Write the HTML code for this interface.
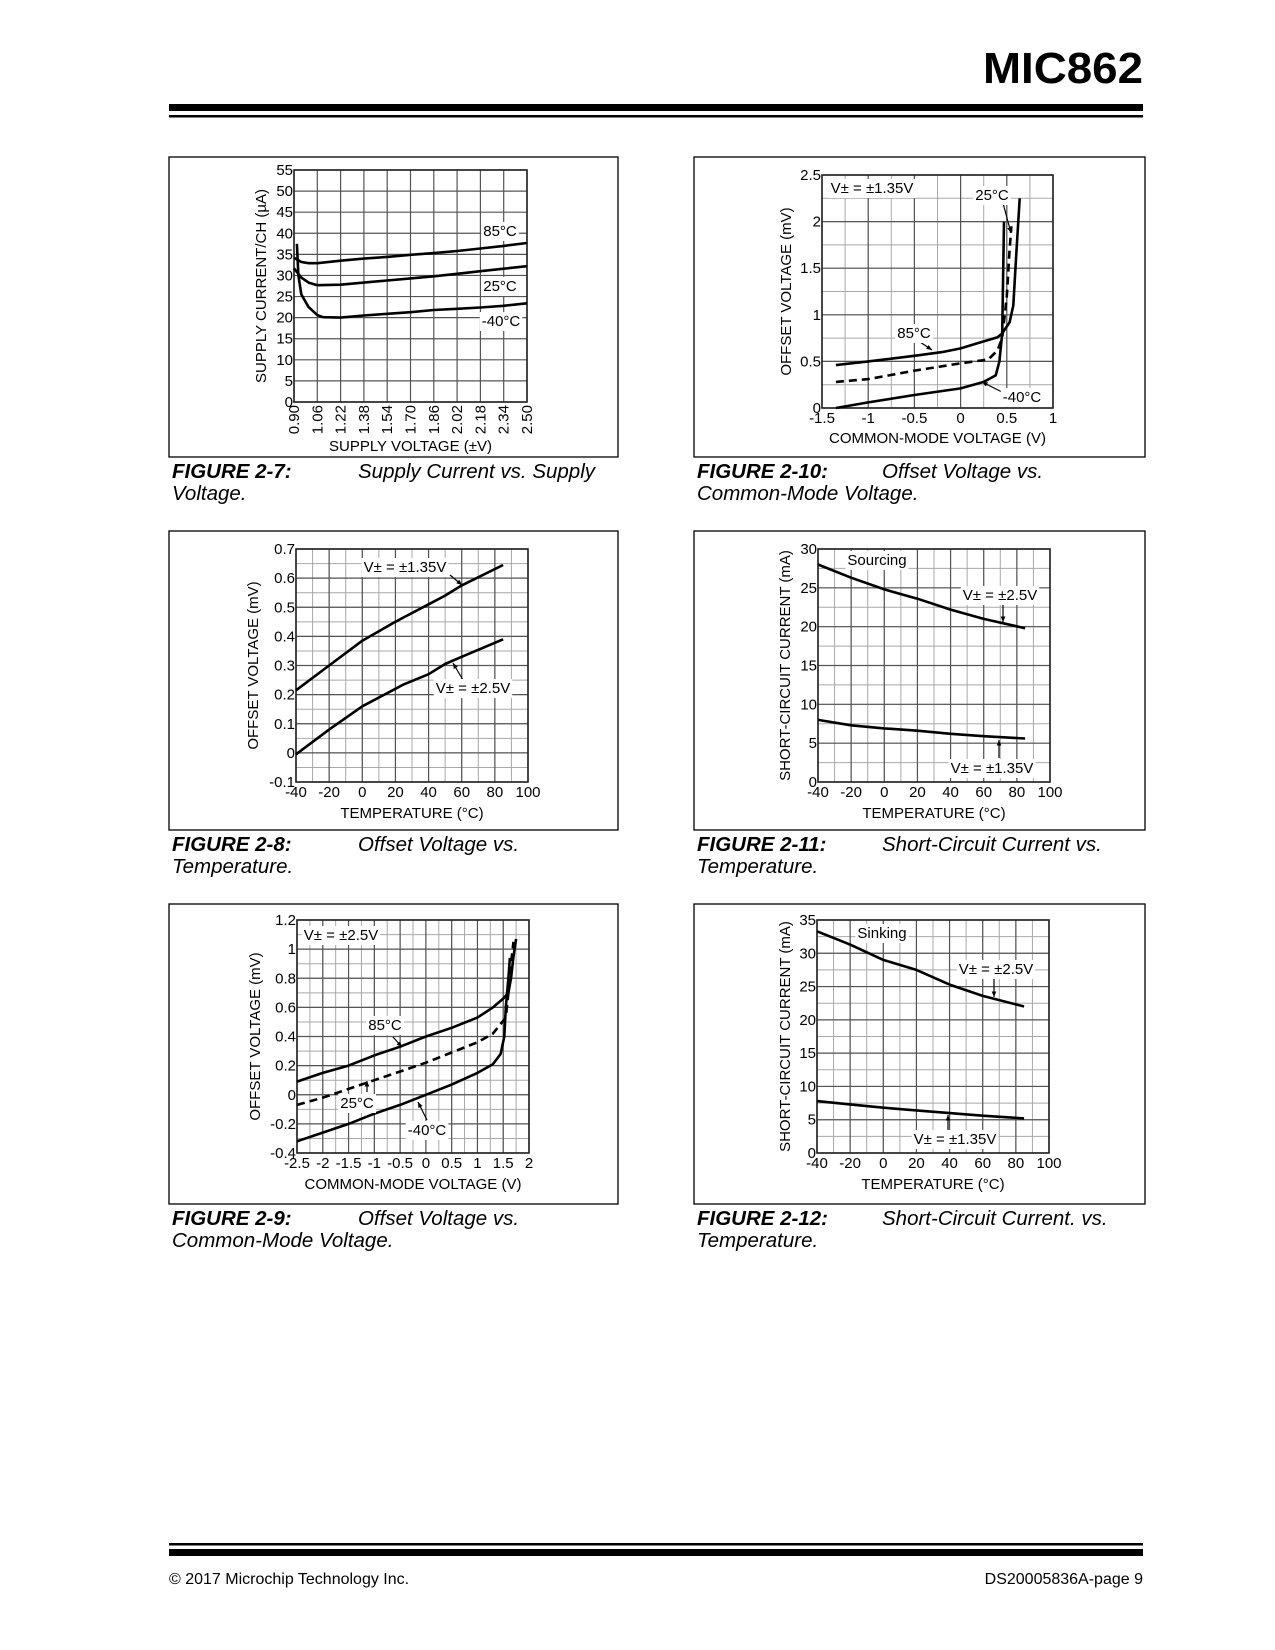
<!DOCTYPE html>
<html><head><meta charset="utf-8"><style>
html,body{margin:0;padding:0;background:#fff;}
svg{display:block;font-family:"Liberation Sans",Arial,sans-serif;}
</style></head><body>
<svg id="page" width="1275" height="1650" viewBox="0 0 1275 1650" xmlns="http://www.w3.org/2000/svg">
<rect x="0" y="0" width="1275" height="1650" fill="#fff"/>
<text x="1143" y="83" text-anchor="end" font-size="44" font-weight="bold" fill="#000" textLength="160" lengthAdjust="spacingAndGlyphs">MIC862</text>
<rect x="169" y="104" width="974" height="7" fill="#000"/>
<rect x="169" y="115" width="974" height="2.5" fill="#000"/>
<rect x="169" y="1543" width="974" height="2.5" fill="#000"/>
<rect x="169" y="1549" width="974" height="7" fill="#000"/>
<text x="169" y="1584" font-size="16" fill="#000">© 2017 Microchip Technology Inc.</text>
<text x="1143" y="1584" font-size="16" text-anchor="end" fill="#000">DS20005836A-page 9</text>
<g id="charts"></g>
<g id="captions" font-size="20.5" font-style="italic" fill="#000">
<text x="172" y="478"><tspan font-weight="bold">FIGURE 2-7:</tspan><tspan x="358">Supply Current vs. Supply</tspan><tspan x="172" y="500">Voltage.</tspan></text>
<text x="697" y="478"><tspan font-weight="bold">FIGURE 2-10:</tspan><tspan x="882">Offset Voltage vs.</tspan><tspan x="697" y="500">Common-Mode Voltage.</tspan></text>
<text x="172" y="851"><tspan font-weight="bold">FIGURE 2-8:</tspan><tspan x="358">Offset Voltage vs.</tspan><tspan x="172" y="873">Temperature.</tspan></text>
<text x="697" y="851"><tspan font-weight="bold">FIGURE 2-11:</tspan><tspan x="882">Short-Circuit Current vs.</tspan><tspan x="697" y="873">Temperature.</tspan></text>
<text x="172" y="1225"><tspan font-weight="bold">FIGURE 2-9:</tspan><tspan x="358">Offset Voltage vs.</tspan><tspan x="172" y="1247">Common-Mode Voltage.</tspan></text>
<text x="697" y="1225"><tspan font-weight="bold">FIGURE 2-12:</tspan><tspan x="882">Short-Circuit Current. vs.</tspan><tspan x="697" y="1247">Temperature.</tspan></text>
</g>
</svg>
<script>
// ---- Figure 2-7 data ----
var f7Ticks = [0.90,1.06,1.22,1.38,1.54,1.70,1.86,2.02,2.18,2.34,2.50];
var f7YTicks = [0,5,10,15,20,25,30,35,40,45,50,55];
var f7X85 = [0.90,0.95,1.00,1.06,1.22,1.38,1.54,1.70,1.86,2.02,2.18,2.34,2.50];
var f7Y85 = [34.2,33.2,32.9,32.9,33.5,34.0,34.4,34.9,35.3,35.8,36.4,37.0,37.7];
var f7X25 = [0.90,0.95,1.00,1.06,1.22,1.38,1.54,1.70,1.86,2.02,2.18,2.34,2.50];
var f7Y25 = [31.7,29.5,28.3,27.7,27.8,28.3,28.8,29.3,29.8,30.4,31.0,31.6,32.2];
var f7Xm40 = [0.92,0.93,0.95,1.00,1.06,1.10,1.22,1.38,1.54,1.70,1.86,2.02,2.18,2.34,2.50];
var f7Ym40 = [37.5,30.0,25.5,22.5,20.6,20.1,20.0,20.5,20.9,21.3,21.8,22.1,22.4,22.8,23.4];
// ---- Figure 2-10 data ----
var f10XTicks = [-1.5,-1,-0.5,0,0.5,1];
var f10YTicks = [0,0.5,1,1.5,2,2.5];
var f10X85 = [-1.35,-1,-0.5,-0.2,0,0.2,0.4,0.45,0.53,0.57,0.6,0.64];
var f10Y85 = [0.46,0.5,0.56,0.6,0.64,0.7,0.76,0.8,0.92,1.1,1.6,2.25];
var f10X25 = [-1.35,-1,-0.5,0,0.3,0.4,0.45,0.5,0.53,0.55];
var f10Y25 = [0.28,0.31,0.4,0.48,0.52,0.62,0.75,1.2,1.7,1.95];
var f10Xm40 = [-1.35,-1,-0.5,0,0.25,0.38,0.42,0.45,0.47];
var f10Ym40 = [0,0.06,0.14,0.21,0.28,0.35,0.5,0.8,2.0];
// ---- Figure 2-8 data ----
var tempTicks = [-40,-20,0,20,40,60,80,100];
var f8YTicks = [-0.1,0,0.1,0.2,0.3,0.4,0.5,0.6,0.7];
var f8X = [-40,-20,0,20,25,40,50,60,85];
var f8Y135 = [0.215,0.30,0.385,0.45,0.465,0.51,0.54,0.575,0.645];
var f8Y25 = [-0.005,0.08,0.16,0.22,0.235,0.27,0.305,0.33,0.39];
// ---- Figure 2-11 data ----
var f11YTicks = [0,5,10,15,20,25,30];
var f11X = [-40,-20,0,20,40,60,85];
var f11Y25 = [28,26.3,24.8,23.6,22.2,21,19.8];
var f11Y135 = [8,7.3,6.9,6.6,6.2,5.9,5.6];
// ---- Figure 2-9 data ----
var f9XTicks = [-2.5,-2,-1.5,-1,-0.5,0,0.5,1,1.5,2];
var f9YTicks = [-0.4,-0.2,0,0.2,0.4,0.6,0.8,1,1.2];
var f9X85 = [-2.5,-2,-1.5,-1,-0.5,0,0.5,1,1.3,1.5,1.6,1.65,1.7,1.75];
var f9Y85 = [0.09,0.15,0.2,0.27,0.33,0.4,0.46,0.53,0.6,0.66,0.7,0.8,0.95,1.07];
var f9X25 = [-2.5,-2,-1.5,-1,-0.5,0,0.5,1,1.3,1.55,1.6,1.65,1.7];
var f9Y25 = [-0.07,-0.02,0.04,0.1,0.16,0.22,0.29,0.36,0.42,0.53,0.7,0.9,1.05];
var f9Xm40 = [-2.5,-2,-1.5,-1,-0.5,0,0.5,1,1.3,1.45,1.52,1.55,1.6,1.63];
var f9Ym40 = [-0.32,-0.26,-0.2,-0.13,-0.07,0,0.07,0.15,0.21,0.28,0.4,0.6,0.8,0.94];
// ---- Figure 2-12 data ----
var f12YTicks = [0,5,10,15,20,25,30,35];
var f12X = [-40,-20,0,20,40,60,85];
var f12Y25 = [33.3,31.3,29,27.5,25.3,23.6,22];
var f12Y135 = [7.8,7.3,6.8,6.4,6,5.6,5.2];

var NS = "http://www.w3.org/2000/svg";
var root = document.getElementById('charts');
function mk(tag, attrs, parent){
  var e = document.createElementNS(NS, tag);
  for (var k in attrs) e.setAttribute(k, attrs[k]);
  parent.appendChild(e);
  return e;
}
function fmt(v){ return String(v); }
var FS = 15;

function chart(o){
  var g = mk('g', {}, root);
  
  
  var frame = mk('rect', {x:o.box[0], y:o.box[1], width:o.box[2]-o.box[0], height:o.box[3]-o.box[1], fill:'#fff', stroke:'#000', 'stroke-width':1.3}, g);
  
  
  var L=o.L,R=o.R,T=o.T,B=o.B;
  function sx(v){ return L + (v - o.xmin)/(o.xmax - o.xmin)*(R-L); }
  function sy(v){ return B - (v - o.ymin)/(o.ymax - o.ymin)*(B-T); }
  var grid = mk('g', {}, g);
  
  
  var i, v;
  if (o.xMinor){
    for (v=o.xmin; v<=o.xmax+1e-9; v+=o.xMinor){
      mk('line',{x1:sx(v),x2:sx(v),y1:T,y2:B,stroke:'#a8a8a8','stroke-width':1},grid);
    }
  }
  if (o.yMinor){
    for (v=o.ymin; v<=o.ymax+1e-9; v+=o.yMinor){
      mk('line',{x1:L,x2:R,y1:sy(v),y2:sy(v),stroke:'#a8a8a8','stroke-width':1},grid);
    }
  }
  for (i=0;i<o.xTicks.length;i++){
    mk('line',{x1:sx(o.xTicks[i]),x2:sx(o.xTicks[i]),y1:T,y2:B,stroke:'#555','stroke-width':1.2},grid);
  }
  for (i=0;i<o.yTicks.length;i++){
    mk('line',{x1:L,x2:R,y1:sy(o.yTicks[i]),y2:sy(o.yTicks[i]),stroke:'#555','stroke-width':1.2},grid);
  }
  mk('rect',{x:L,y:T,width:R-L,height:B-T,fill:'none',stroke:'#222','stroke-width':1.6},grid);
  for (i=0;i<o.yTicks.length;i++){
    var yt = mk('text',{x:L-1,y:sy(o.yTicks[i])+5,'text-anchor':'end','font-size':FS,fill:'#000'},g);
    yt.textContent = o.yLabels ? o.yLabels[i] : fmt(o.yTicks[i]);
    
    
  }
  for (i=0;i<o.xTicks.length;i++){
    var xt;
    var lab = o.xLabels ? o.xLabels[i] : fmt(o.xTicks[i]);
    if (o.rotX){
      xt = mk('text',{x:0,y:0,'text-anchor':'end','font-size':FS,fill:'#000',transform:'translate('+(sx(o.xTicks[i])+5)+','+(B+3)+') rotate(-90)'},g);
    } else {
      xt = mk('text',{x:sx(o.xTicks[i]),y:o.tickY,'text-anchor':'middle','font-size':FS,fill:'#000'},g);
    }
    xt.textContent = lab;
    
    
  }
  var ytl = mk('text',{x:0,y:0,'text-anchor':'middle','font-size':FS,fill:'#000',transform:'translate('+o.ytitleX+','+((T+B)/2)+') rotate(-90)'},g);
  ytl.textContent = o.ytitle;
  
  
  var xtl = mk('text',{x:(L+R)/2,y:o.xtitleY,'text-anchor':'middle','font-size':FS,fill:'#000'},g);
  xtl.textContent = o.xtitle;
  
  
  for (i=0;i<o.series.length;i++){
    var s = o.series[i], d='';
    for (var j=0;j<s.x.length;j++) d += (j?'L':'M') + sx(s.x[j]).toFixed(1) + ',' + sy(s.y[j]).toFixed(1);
    var p = mk('path',{d:d,fill:'none',stroke:'#000','stroke-width':2.6,'stroke-linejoin':'round','stroke-linecap':'butt'},g);
    if (s.dash) p.setAttribute('stroke-dasharray','8,5');
    
    
  }
  (o.arrows||[]).forEach(function(a){
    var ln = mk('line',{x1:a[0],y1:a[1],x2:a[2],y2:a[3],stroke:'#000','stroke-width':1.2},g);
    
    
    var ang = Math.atan2(a[3]-a[1], a[2]-a[0]), h=6;
    var p1x=a[2]-h*Math.cos(ang-0.4), p1y=a[3]-h*Math.sin(ang-0.4);
    var p2x=a[2]-h*Math.cos(ang+0.4), p2y=a[3]-h*Math.sin(ang+0.4);
    var hd = mk('polygon',{points:a[2]+','+a[3]+' '+p1x+','+p1y+' '+p2x+','+p2y,fill:'#000'},g);
    
    
  });
  (o.labels||[]).forEach(function(l){
    var bg = mk('rect',{fill:'#fff'},g);
    
    
    var t = mk('text',{x:l[1],y:l[2]+5,'text-anchor':'middle','font-size':FS,fill:'#000'},g);
    t.textContent = l[0];
    
    
    try { var bb=t.getBBox(); bg.setAttribute('x',bb.x-2); bg.setAttribute('y',bb.y-1); bg.setAttribute('width',bb.width+4); bg.setAttribute('height',bb.height+2); } catch(e){}
  });
}

chart({name:'chart-fig-2-7', box:[169,157,618,457], L:294,R:527,T:170,B:402,
  xmin:0.90,xmax:2.50,ymin:0,ymax:55, xTicks:f7Ticks, xLabels:f7Ticks.map(function(v){return v.toFixed(2);}), yTicks:f7YTicks, rotX:true,
  ytitle:'SUPPLY CURRENT/CH (µA)', ytitleX:266, xtitle:'SUPPLY VOLTAGE (±V)', xtitleY:451,
  series:[{x:f7X85,y:f7Y85,name:'series-85c'},{x:f7X25,y:f7Y25,name:'series-25c'},{x:f7Xm40,y:f7Ym40,name:'series-minus40c'}],
  labels:[['85°C',500,231,'label-85c'],['25°C',500,286,'label-25c'],['-40°C',501,321,'label-minus40c']]});

chart({name:'chart-fig-2-10', box:[694,157,1145,457], L:822,R:1053,T:175,B:408,
  xmin:-1.5,xmax:1,ymin:0,ymax:2.5, xMinor:0.25, yMinor:0.25, xTicks:f10XTicks, yTicks:f10YTicks, tickY:423,
  ytitle:'OFFSET VOLTAGE (mV)', ytitleX:791, xtitle:'COMMON-MODE VOLTAGE (V)', xtitleY:443,
  series:[{x:f10X85,y:f10Y85,name:'series-85c'},{x:f10X25,y:f10Y25,dash:true,name:'series-25c'},{x:f10Xm40,y:f10Ym40,name:'series-minus40c'}],
  arrows:[[1003,203,1011,233],[917,340,932,350],[1002,392,982,382]],
  labels:[['V± = ±1.35V',872,188,'label-supply'],['25°C',992,195,'label-25c'],['85°C',914,333,'label-85c'],['-40°C',1022,397,'label-minus40c']]});

chart({name:'chart-fig-2-8', box:[169,531,618,830], L:296,R:528,T:549,B:782,
  xmin:-40,xmax:100,ymin:-0.1,ymax:0.7, xMinor:10, yMinor:0.05, xTicks:tempTicks, yTicks:f8YTicks, tickY:797,
  ytitle:'OFFSET VOLTAGE (mV)', ytitleX:258, xtitle:'TEMPERATURE (°C)', xtitleY:818,
  series:[{x:f8X,y:f8Y135,name:'series-1-35v'},{x:f8X,y:f8Y25,name:'series-2-5v'}],
  arrows:[[450,575,462,585],[463,680,453,663]],
  labels:[['V± = ±1.35V',405,567,'label-1-35v'],['V± = ±2.5V',473,688,'label-2-5v']]});

chart({name:'chart-fig-2-11', box:[694,531,1145,830], L:818,R:1050,T:549,B:782,
  xmin:-40,xmax:100,ymin:0,ymax:30, xMinor:10, yMinor:2.5, xTicks:tempTicks, yTicks:f11YTicks, tickY:797,
  ytitle:'SHORT-CIRCUIT CURRENT (mA)', ytitleX:790, xtitle:'TEMPERATURE (°C)', xtitleY:818,
  series:[{x:f11X,y:f11Y25,name:'series-2-5v'},{x:f11X,y:f11Y135,name:'series-1-35v'}],
  arrows:[[1003,603,1003,622],[999,758,999,740]],
  labels:[['Sourcing',877,560,'label-sourcing'],['V± = ±2.5V',1000,595,'label-2-5v'],['V± = ±1.35V',992,768,'label-1-35v']]});

chart({name:'chart-fig-2-9', box:[169,904,618,1204], L:297,R:529,T:920,B:1153,
  xmin:-2.5,xmax:2,ymin:-0.4,ymax:1.2, xMinor:0.25, yMinor:0.1, xTicks:f9XTicks, yTicks:f9YTicks, tickY:1168,
  ytitle:'OFFSET VOLTAGE (mV)', ytitleX:260, xtitle:'COMMON-MODE VOLTAGE (V)', xtitleY:1189,
  series:[{x:f9X85,y:f9Y85,name:'series-85c'},{x:f9X25,y:f9Y25,dash:true,name:'series-25c'},{x:f9Xm40,y:f9Ym40,name:'series-minus40c'}],
  arrows:[[393,1037,402,1047],[367,1092,367,1081],[427,1120,418,1102]],
  labels:[['V± = ±2.5V',341,935,'label-supply'],['85°C',385,1025,'label-85c'],['25°C',357,1103,'label-25c'],['-40°C',427,1130,'label-minus40c']]});

chart({name:'chart-fig-2-12', box:[694,904,1145,1204], L:817,R:1049,T:920,B:1153,
  xmin:-40,xmax:100,ymin:0,ymax:35, xMinor:10, yMinor:2.5, xTicks:tempTicks, yTicks:f12YTicks, tickY:1168,
  ytitle:'SHORT-CIRCUIT CURRENT (mA)', ytitleX:790, xtitle:'TEMPERATURE (°C)', xtitleY:1189,
  series:[{x:f12X,y:f12Y25,name:'series-2-5v'},{x:f12X,y:f12Y135,name:'series-1-35v'}],
  arrows:[[994,975,994,997],[948,1132,948,1115]],
  labels:[['Sinking',882,933,'label-sinking'],['V± = ±2.5V',996,969,'label-2-5v'],['V± = ±1.35V',955,1139,'label-1-35v']]});
</script>
</body></html>
